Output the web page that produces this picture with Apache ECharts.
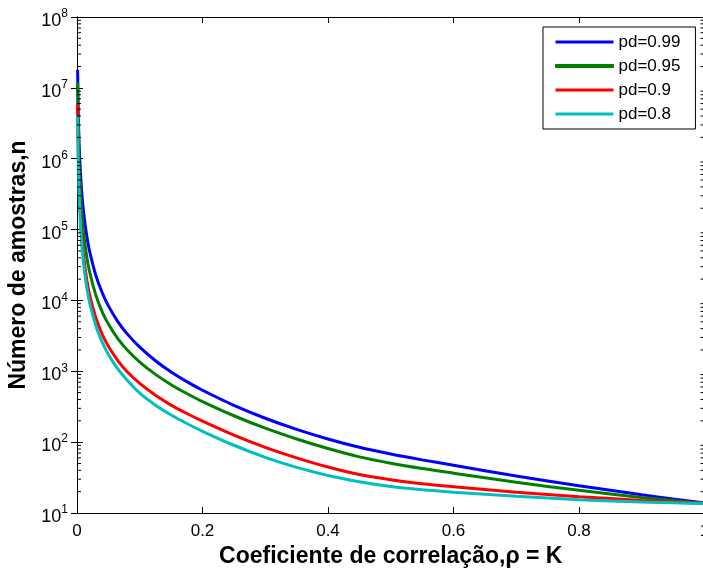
<!DOCTYPE html>
<html>
<head>
<meta charset="utf-8">
<script src="https://cdn.jsdelivr.net/npm/echarts@6/dist/echarts.min.js"></script>
<style>
html,body{margin:0;padding:0;background:#fff;}
#c{width:703px;height:572px;}
</style>
</head>
<body>
<div id="c"></div>
<script>
// ---- data ----
var rho   = [0.001,0.002,0.004,0.007,0.01,0.015,0.02,0.03,0.04,0.05,0.065,0.08,0.1,0.125,0.15,0.175,0.2,0.25,0.3,0.35,0.4,0.45,0.5,0.55,0.6,0.7,0.8,0.9,0.95,1.0];
var pd099 = [1.8e7,4.57e6,1.166e6,3.89e5,1.93e5,8.74e4,4.98e4,2.26e4,1.293e4,8380,5035,3372,2188,1409,977,714,540,331,217.5,151.4,110.8,84.5,67.9,56.2,47.2,33.2,24.2,18.1,15.8,13.9];
var pd095 = [1.2e7,2.67e6,6.24e5,2.0e5,9.8e4,4.44e4,2.55e4,1.19e4,6970,4633,2885,1994,1349,904,647.5,485,373.6,235.8,157.6,110.9,81.3,62.0,50.4,42.4,36.5,27.1,20.9,16.6,15.02,13.7];
var pd090 = [6.0e6,1.30e6,2.97e5,9.44e4,4.63e4,2.10e4,1.21e4,5690,3360,2250,1416,986,673,458,333,253.6,198,125.7,84.5,60.1,44.6,35.0,29.5,25.95,23.5,19.6,17.0,15.06,14.3,13.7];
var pd080 = [4.0e6,9.2e5,2.21e5,7.18e4,3.56e4,1.63e4,9420,4400,2600,1730,1080,746,490,332,242,183.5,142.4,90.4,61.1,44.0,33.8,27.6,23.6,21.3,19.7,17.2,15.4,14.3,13.9,13.6];
var seriesNames  = ['pd=0.99','pd=0.95','pd=0.9','pd=0.8'];
var seriesColors = ['#0000FF','#008000','#FF0000','#00BFBF'];
var xTicks = [0,0.2,0.4,0.6,0.8,1];
var minorMultipliers = [2,3,4,5,6,7,8,9];
var decades = [1,2,3,4,5,6,7];

var FONT = '"Liberation Sans", Arial, Helvetica, sans-serif';

function pairs(vals){ return rho.map(function(r,i){ return [r, vals[i]]; }); }
var allVals = [pd099, pd095, pd090, pd080];

var minorData = [];
decades.forEach(function(k){ minorMultipliers.forEach(function(m){ minorData.push([0, m*Math.pow(10,k)]); }); });

var chart = echarts.init(document.getElementById('c'), null, {renderer:'canvas'});

var lineSeries = allVals.map(function(v,i){
  return {
    name: seriesNames[i], type:'line', data: pairs(v),
    showSymbol:false, symbol:'none', smooth:0.3,
    lineStyle:{color:seriesColors[i], width:3},
    itemStyle:{color:seriesColors[i]},
    z: 2+i, clip:true, animation:false
  };
});

var minorSeries = {
  type:'custom', data:minorData, z:10, silent:true, animation:false,
  renderItem:function(params, api){
    var v = api.value(1);
    var pl = api.coord([0, v]);
    var pr = api.coord([1, v]);
    return {type:'group', children:[
      {type:'line', shape:{x1:pl[0], y1:pl[1], x2:pl[0]+4, y2:pl[1]}, style:{stroke:'#000', lineWidth:1}},
      {type:'line', shape:{x1:pr[0]-4, y1:pr[1], x2:pr[0], y2:pr[1]}, style:{stroke:'#000', lineWidth:1}}
    ]};
  }
};

var legendData = seriesNames.map(function(n,i){
  var it = {name:n, icon:'rect', itemStyle:{color:seriesColors[i]}};
  if(i===1){ it.itemStyle.borderColor = seriesColors[i]; it.itemStyle.borderWidth = 1; }
  return it;
});

chart.setOption({
  animation:false,
  backgroundColor:'#fff',
  grid:{left:77, top:17, width:627.5, height:496, containLabel:false, outerBoundsMode:'none'},
  legend:{
    data:legendData, orient:'vertical', left:543, top:27,
    itemWidth:58, itemHeight:3, itemGap:4,
    padding:[5,15,5,12], borderColor:'#000', borderWidth:1, backgroundColor:'#fff',
    selectedMode:false,
    textStyle:{fontSize:17, color:'#000', fontFamily:FONT, lineHeight:20}
  },
  xAxis:[{
    type:'value', min:0, max:1, interval:0.2, position:'bottom',
    axisLine:{show:true, lineStyle:{color:'#000', width:1}},
    axisTick:{show:true, inside:true, length:6, lineStyle:{color:'#000'}},
    axisLabel:{fontSize:17, color:'#000', fontFamily:FONT, margin:10, hideOverlap:false, showMaxLabel:true,
      formatter:function(v){ var r=+v.toFixed(1); return xTicks.indexOf(r)>=0 ? String(r) : ''; }},
    splitLine:{show:false},
    name:'Coeficiente de correlação,ρ = K', nameLocation:'middle', nameGap:28,
    nameTextStyle:{fontSize:23, fontWeight:'bold', color:'#000', fontFamily:FONT}
  },{
    type:'value', min:0, max:1, interval:0.2, position:'top',
    axisLine:{show:true, lineStyle:{color:'#000', width:1}},
    axisTick:{show:true, inside:true, length:6, lineStyle:{color:'#000'}},
    axisLabel:{show:false}, splitLine:{show:false}
  }],
  yAxis:[{
    type:'log', logBase:10, min:10, max:1e8, position:'left',
    axisLine:{show:true, lineStyle:{color:'#000', width:1}},
    axisTick:{show:true, inside:true, length:6, lineStyle:{color:'#000'}},
    splitLine:{show:false},
    axisLabel:{margin:9, color:'#000', fontFamily:FONT,
      formatter:function(v){ var e=Math.round(Math.log(v)/Math.LN10); return '{b|10}{e|'+e+'}'; },
      rich:{ b:{fontSize:18, fontFamily:FONT, color:'#000', padding:[8,0,0,0]}, e:{fontSize:12, fontFamily:FONT, color:'#000', padding:[0,0,6,0]} }
    },
    name:'Número de amostras,n', nameLocation:'middle', nameGap:36,
    nameTextStyle:{fontSize:23, fontWeight:'bold', color:'#000', fontFamily:FONT}
  },{
    type:'log', logBase:10, min:10, max:1e8, position:'right',
    axisLine:{show:true, lineStyle:{color:'#000', width:1}},
    axisTick:{show:true, inside:true, length:6, lineStyle:{color:'#000'}},
    axisLabel:{show:false}, splitLine:{show:false}
  }],
  series: lineSeries.concat([minorSeries])
});
</script>
</body>
</html>
